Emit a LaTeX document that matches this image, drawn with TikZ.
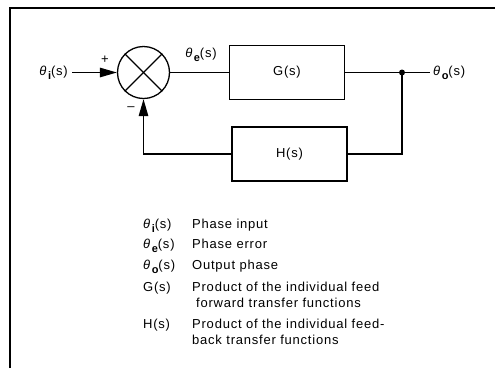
\documentclass[tikz,border=0pt]{standalone}
\usepackage{fontspec}
\setmainfont{Liberation Sans}[LetterSpace=6]
\usetikzlibrary{arrows.meta}
\newcommand{\thsub}[1]{{\itshape θ}\hspace{1.5pt}\raisebox{-4pt}{\fontsize{11}{12}\selectfont\bfseries #1}(s)}
\tikzset{
  line/.style={line width=1.3pt},
  blk/.style={draw, line width=1.2pt, minimum width=115pt, minimum height=54pt, inner sep=0pt, font=\fontsize{13}{15}\selectfont},
  lbl/.style={inner sep=0pt, font=\fontsize{13}{15}\selectfont},
  arr/.style={-{Triangle[length=17pt,width=9.5pt]}},
}
\begin{document}
\begin{tikzpicture}[x=1pt,y=-1pt]
\useasboundingbox (0,0) rectangle (495,368);
\draw[line width=2pt] (10,368) -- (10,8) -- (495,8);
% nodes
\node[draw, circle, line width=1.3pt, minimum size=52pt, inner sep=0pt] (sum) at (143.5,72.5) {};
\draw[line width=1.1pt] (sum.north west) -- (sum.south east);
\draw[line width=1.1pt] (sum.north east) -- (sum.south west);
\node[blk] (G) at (287,72.5) {G(s)};
\node[blk] (H) at (289.5,154) {H(s)};
\coordinate (in) at (72,72.5);
\node[circle, fill, inner sep=0pt, minimum size=6pt] (dot) at (402,72.5) {};
\coordinate (out) at (430,72.5);
% labels
\node[lbl, anchor=east] (thi) at (68,72.5) {\thsub{i}};
\node[lbl] (plus) at (105,60) {+};
\node[lbl] (minus) at (131,109) {–};
\node[lbl] (the) at (201,55) {\thsub{e}};
\node[lbl, anchor=west] (tho) at (433,72.5) {\thsub{o}};
% connectors
\draw[line, arr] (in) -- (sum.west);
\draw[line] (sum.east) -- (G.west);
\draw[line] (G.east) -- (dot.center) -- (out);
\draw[line] (dot.center) |- (H.east);
\draw[line, arr] (H.west) -| (sum.south);
% legend
\begin{scope}[every node/.style={lbl, anchor=base west}]
\node (l1s) at (143,228) {\thsub{i}};
\node (l1t) at (192,228) {Phase input};
\node (l2s) at (143,248) {\thsub{e}};
\node (l2t) at (192,248) {Phase error};
\node (l3s) at (143,269) {\thsub{o}};
\node (l3t) at (192,269) {Output phase};
\node (l4s) at (143,291) {G(s)};
\node (l4t) at (192,291) {Product of the individual feed};
\node (l4u) at (196,307) {forward transfer functions};
\node (l5s) at (143,328) {H(s)};
\node (l5t) at (192,328) {Product of the individual feed-};
\node (l5u) at (192,344) {back transfer functions};
\end{scope}
\end{tikzpicture}
\end{document}
